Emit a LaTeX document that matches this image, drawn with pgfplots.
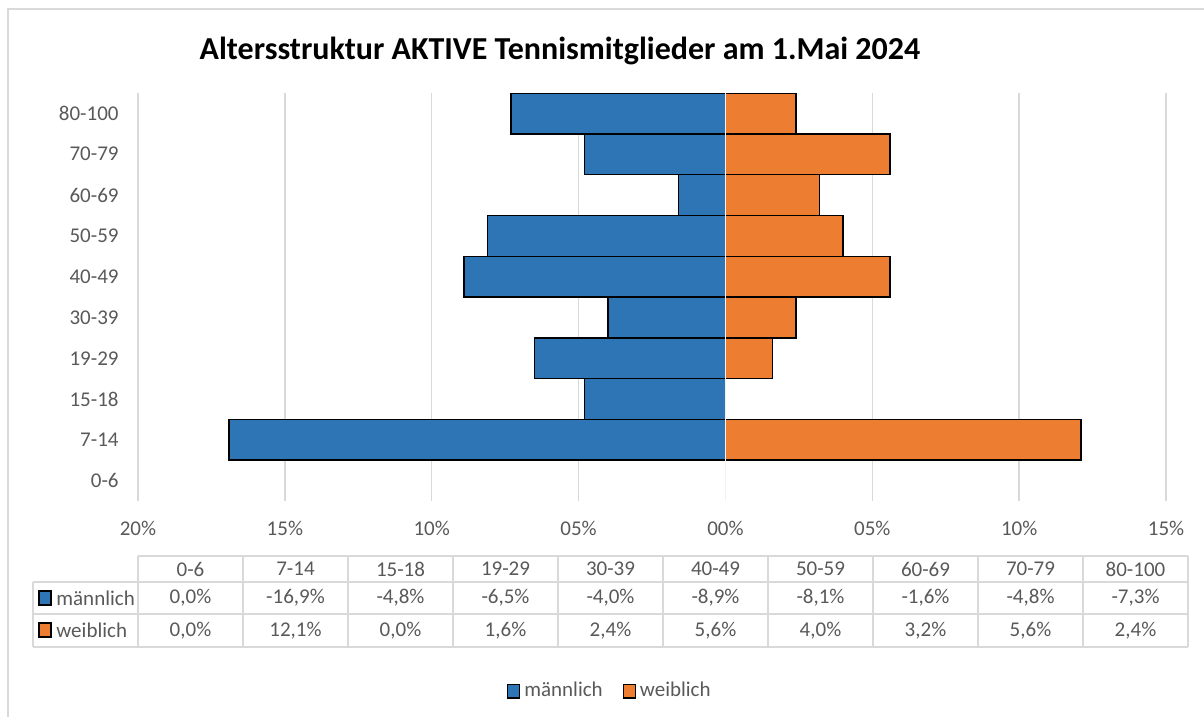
\documentclass[border=0pt]{standalone}
\usepackage{pgfplots}
\pgfplotsset{compat=1.18}
\usepackage{fontspec}
\setmainfont{Carlito}
\definecolor{mblue}{HTML}{2E75B6}
\definecolor{worange}{HTML}{ED7D31}
\definecolor{txt}{HTML}{595959}
\definecolor{gridc}{HTML}{D9D9D9}
\begin{document}
\begin{tikzpicture}
\path[use as bounding box] (0,0) rectangle (602pt,358.5pt);
\begin{scope}[x=0.5pt,y=-0.5pt,shift={(0pt,358.5pt)}]
  \draw[gridc, line width=1pt] (8,717) -- (8,9) -- (1204,9);
  \node[font=\bfseries\fontsize{16}{19}\selectfont, text=black] at (560,51) {Altersstruktur AKTIVE Tennismitglieder am 1.Mai 2024};
\end{scope}
\begin{axis}[
  at={(69pt,108pt)}, anchor=south west,
  scale only axis, width=514pt, height=204pt,
  xmin=-20, xmax=15, ymin=-0.5, ymax=9.5,
  xbar, bar width=1, bar shift=0pt,
  axis line style={draw=none}, major tick length=0pt,
  xmajorgrids, grid style={gridc, line width=0.7pt},
  xtick={-20,-15,...,15},
  xticklabels={20\%,15\%,10\%,05\%,00\%,05\%,10\%,15\%},
  ytick={0,...,9},
  yticklabels={0-6,7-14,15-18,19-29,30-39,40-49,50-59,60-69,70-79,80-100},
  tick label style={font=\fontsize{10.5}{12}\selectfont, text=txt},
  xticklabel style={anchor=center, yshift=-13.5pt},
  yticklabel style={anchor=east, inner sep=0pt, xshift=-9.5pt},
  legend columns=2,
  legend style={at={(0.46,-0.466)}, anchor=center, draw=none, fill=none,
    font=\fontsize{10.5}{12}\selectfont, text=txt,
    /tikz/every even column/.append style={column sep=8pt}},
  legend image code/.code={\draw[#1, line width=0.6pt] (0pt,-3.4pt) rectangle (6pt,3.4pt);},
]
\addplot[fill=mblue, draw=black, line width=0.7pt, bar shift=0pt] coordinates {
  (-16.9,1) (-4.8,2) (-6.5,3) (-4.0,4) (-8.9,5) (-8.1,6) (-1.6,7) (-4.8,8) (-7.3,9)};
\addlegendentry{männlich}
\addplot[fill=worange, draw=black, line width=0.7pt, bar shift=0pt] coordinates {
  (12.1,1) (1.6,3) (2.4,4) (5.6,5) (4.0,6) (3.2,7) (5.6,8) (2.4,9)};
\addlegendentry{weiblich}
\draw[white!90!gray, line width=0.8pt] (axis cs:0,-0.5) -- (axis cs:0,9.5);
\end{axis}
\begin{scope}[x=0.5pt,y=-0.5pt,shift={(0pt,358.5pt)}]
  \draw[gridc, line width=0.7pt] (138,556) -- (1188,556);
  \draw[gridc, line width=0.7pt] (33,582) -- (1188,582);
  \draw[gridc, line width=0.7pt] (33,614) -- (1188,614);
  \draw[gridc, line width=0.7pt] (33,647) -- (1188,647);
  \draw[gridc, line width=0.7pt] (33,582) -- (33,647);
  \foreach \i in {0,...,10} {\draw[gridc, line width=0.7pt] (138+105*\i,556) -- (138+105*\i,647);}
  \foreach \c [count=\i from 0] in {0-6,7-14,15-18,19-29,30-39,40-49,50-59,60-69,70-79,80-100}
    {\node[font=\fontsize{10.5}{12}\selectfont, text=txt] at (190.5+105*\i,569) {\c};}
  \foreach \c [count=\i from 0] in {{0,0\%},{-16,9\%},{-4,8\%},{-6,5\%},{-4,0\%},{-8,9\%},{-8,1\%},{-1,6\%},{-4,8\%},{-7,3\%}}
    {\node[font=\fontsize{10.5}{12}\selectfont, text=txt] at (190.5+105*\i,598) {\c};}
  \foreach \c [count=\i from 0] in {{0,0\%},{12,1\%},{0,0\%},{1,6\%},{2,4\%},{5,6\%},{4,0\%},{3,2\%},{5,6\%},{2,4\%}}
    {\node[font=\fontsize{10.5}{12}\selectfont, text=txt] at (190.5+105*\i,630.5) {\c};}
  \draw[fill=mblue, draw=black, line width=0.6pt] (39,591) rectangle (51,605);
  \draw[fill=worange, draw=black, line width=0.6pt] (39,623) rectangle (51,637);
  \node[font=\fontsize{10.5}{12}\selectfont, text=txt, anchor=west, inner sep=0pt] at (56,598) {männlich};
  \node[font=\fontsize{10.5}{12}\selectfont, text=txt, anchor=west, inner sep=0pt] at (56,630.5) {weiblich};
\end{scope}
\end{tikzpicture}
\end{document}
